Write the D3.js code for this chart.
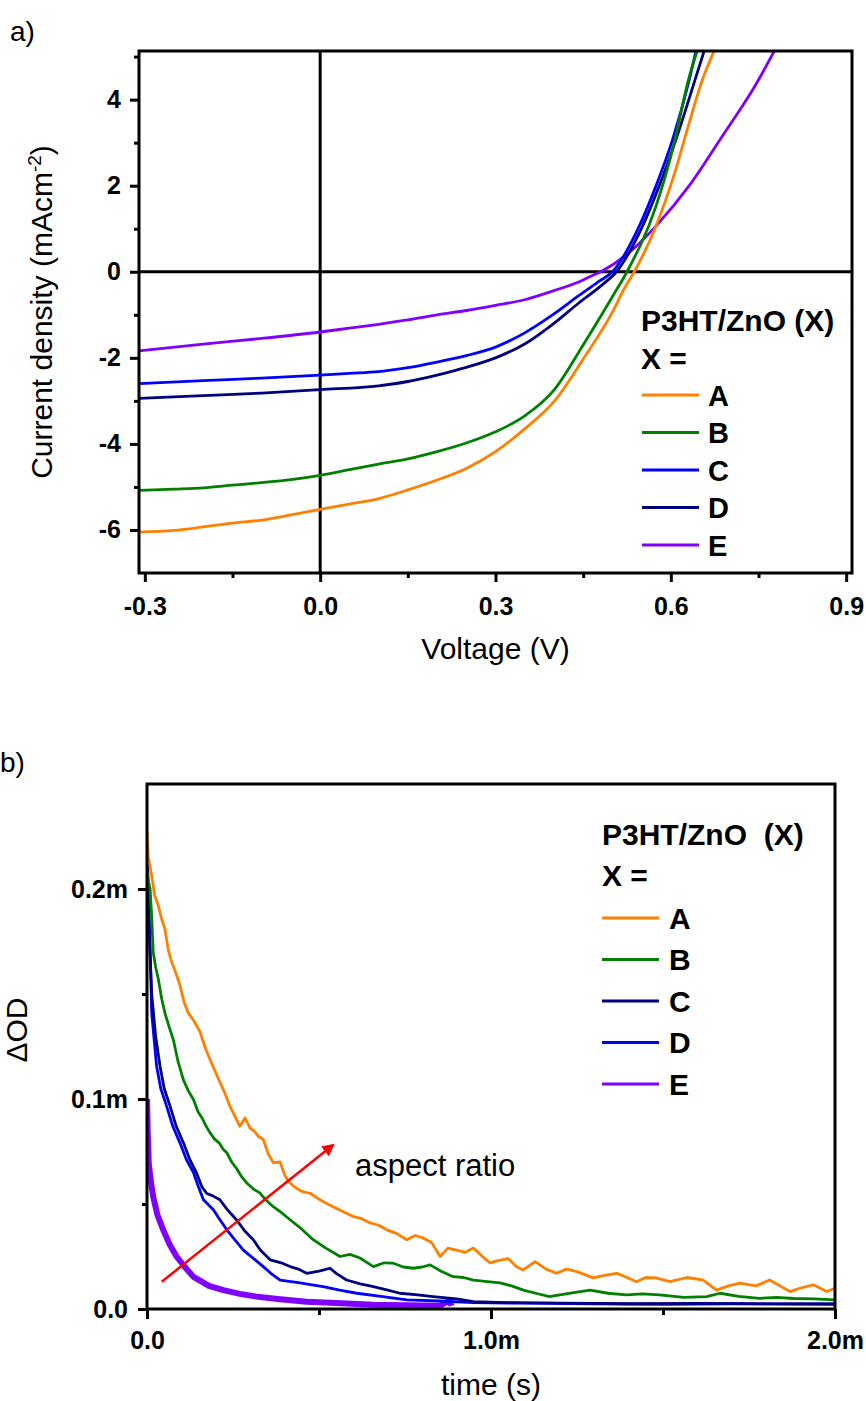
<!DOCTYPE html>
<html><head><meta charset="utf-8">
<script src="https://cdn.jsdelivr.net/npm/d3@7"></script>
<style>
body{margin:0;background:#fff}
svg{display:block}
text{font-family:"Liberation Sans",Arial,Helvetica,sans-serif;fill:#000}
</style>
</head><body>
<svg id="c" width="866" height="1401"></svg>
<script>
// ---------- Panel a) J-V data ----------
const jvSeries = ["A","B","C","D","E"];
const jvColors = ["#ff8000","#008000","#0000ff","#000080","#8000ff"];
const V_A = [-0.31,-0.25,-0.2,-0.15,-0.1,-0.05,0,0.05,0.1,0.15,0.2,0.25,0.3,0.35,0.4,0.45,0.5,0.52,0.5375,0.5745,0.603,0.6315,0.654,0.674];
const J_A = [-6.05,-6.01,-5.93,-5.84,-5.77,-5.65,-5.52,-5.40,-5.27,-5.07,-4.84,-4.57,-4.18,-3.65,-3.02,-2.03,-0.94,-0.40,0,1.06,2.14,3.46,4.46,5.13];
const V_B = [-0.31,-0.25,-0.2,-0.15,-0.1,-0.05,0,0.05,0.1,0.15,0.2,0.25,0.3,0.35,0.4,0.45,0.5,0.525,0.5745,0.603,0.6315,0.645];
const J_B = [-5.08,-5.05,-5.02,-4.96,-4.90,-4.83,-4.73,-4.60,-4.47,-4.35,-4.18,-3.98,-3.72,-3.35,-2.75,-1.70,-0.58,0,1.52,2.84,4.53,5.13];
const V_C = [-0.31,-0.2,-0.1,0,0.05,0.1,0.15,0.2,0.25,0.3,0.35,0.4,0.443,0.4776,0.5,0.546,0.5745,0.603,0.6315,0.643];
const J_C = [-2.60,-2.53,-2.47,-2.40,-2.36,-2.32,-2.23,-2.10,-1.95,-1.75,-1.42,-0.98,-0.55,-0.22,0,1.06,1.99,3.07,4.46,5.13];
const V_D = [-0.31,-0.2,-0.1,0,0.1,0.15,0.2,0.25,0.3,0.35,0.4,0.443,0.483,0.507,0.5516,0.58,0.6087,0.643,0.657];
const J_D = [-2.94,-2.88,-2.82,-2.74,-2.65,-2.55,-2.40,-2.22,-2.00,-1.68,-1.20,-0.72,-0.30,0,1.06,1.99,3.07,4.53,5.13];
const V_E = [-0.31,-0.2,-0.1,0,0.05,0.1,0.15,0.2,0.25,0.3,0.35,0.4,0.45,0.4605,0.48,0.529,0.5745,0.6315,0.688,0.7455,0.777];
const J_E = [-1.84,-1.68,-1.55,-1.40,-1.31,-1.22,-1.12,-1.00,-0.90,-0.78,-0.65,-0.44,-0.19,-0.12,0,0.45,1.06,2.00,3.15,4.35,5.13];
const jvV = [V_A,V_B,V_C,V_D,V_E];
const jvJ = [J_A,J_B,J_C,J_D,J_E];
const jvXTicks = [-0.3,0,0.3,0.6,0.9];
const jvXMinor = [-0.15,0.15,0.45,0.75];
const jvYTicks = [-6,-4,-2,0,2,4];
const jvYMinor = [-5,-3,-1,1,3,5];

// ---------- Panel b) transient absorption data (time in ms, dOD in 1e-3) ----------
const taSeries = ["A","B","C","D","E"];
const taColors = ["#ff8000","#008000","#000080","#0000ff","#8000ff"];
const T_A = [0,0.004,0.014,0.022,0.033,0.042,0.052,0.062,0.072,0.084,0.096,0.108,0.12,0.137,0.154,0.168,0.18,0.196,0.212,0.226,0.24,0.255,0.27,0.285,0.3,0.31,0.325,0.338,0.352,0.367,0.387,0.4,0.411,0.43,0.45,0.475,0.503,0.525,0.55,0.575,0.6,0.625,0.648,0.672,0.697,0.725,0.755,0.78,0.8,0.828,0.852,0.875,0.9,0.925,0.949,0.975,0.997,1.02,1.05,1.075,1.094,1.128,1.16,1.19,1.22,1.25,1.297,1.33,1.366,1.395,1.423,1.45,1.48,1.52,1.57,1.617,1.656,1.69,1.724,1.77,1.81,1.84,1.869,1.9,1.937,1.976,2.0];
const D_A = [0.227,0.215,0.206,0.197,0.192,0.186,0.181,0.171,0.165,0.160,0.154,0.146,0.141,0.137,0.132,0.125,0.120,0.114,0.108,0.103,0.097,0.092,0.087,0.091,0.086,0.085,0.082,0.0807,0.074,0.0697,0.070,0.064,0.0607,0.058,0.056,0.055,0.052,0.050,0.048,0.046,0.044,0.043,0.041,0.040,0.0377,0.036,0.033,0.035,0.034,0.0315,0.025,0.029,0.028,0.027,0.029,0.025,0.022,0.023,0.024,0.020,0.0186,0.0226,0.019,0.017,0.019,0.0178,0.0148,0.016,0.017,0.015,0.013,0.015,0.0148,0.013,0.015,0.0138,0.009,0.011,0.0123,0.011,0.0138,0.011,0.0083,0.010,0.0115,0.0083,0.0099];
const T_B = [0,0.005,0.009,0.014,0.018,0.025,0.033,0.043,0.052,0.065,0.077,0.09,0.106,0.12,0.135,0.148,0.16,0.172,0.183,0.196,0.21,0.222,0.232,0.246,0.26,0.275,0.29,0.31,0.328,0.345,0.367,0.39,0.416,0.45,0.483,0.52,0.561,0.59,0.619,0.658,0.69,0.716,0.745,0.774,0.8,0.823,0.855,0.89,0.92,0.949,0.99,1.026,1.06,1.094,1.13,1.17,1.2,1.25,1.288,1.34,1.394,1.44,1.49,1.56,1.627,1.666,1.72,1.78,1.83,1.88,1.94,2.0];
const D_B = [0.208,0.203,0.2,0.1857,0.17,0.163,0.157,0.1475,0.141,0.134,0.128,0.118,0.109,0.104,0.0998,0.094,0.091,0.087,0.084,0.081,0.079,0.076,0.0744,0.070,0.067,0.063,0.060,0.057,0.0553,0.052,0.0487,0.046,0.0425,0.038,0.033,0.029,0.025,0.026,0.0243,0.0202,0.022,0.0218,0.020,0.0194,0.020,0.021,0.018,0.0154,0.015,0.0138,0.013,0.0124,0.011,0.009,0.0075,0.0059,0.0067,0.008,0.009,0.0075,0.0067,0.0072,0.0067,0.0055,0.0059,0.0075,0.006,0.0051,0.0055,0.005,0.0048,0.0043];
const T_C = [0,0.005,0.0136,0.025,0.038,0.05,0.067,0.085,0.106,0.125,0.144,0.16,0.174,0.19,0.212,0.235,0.26,0.285,0.309,0.33,0.358,0.39,0.416,0.44,0.464,0.5,0.532,0.55,0.58,0.62,0.658,0.7,0.735,0.78,0.832,0.9,0.949,1.045,1.2,1.4,1.6,1.8,2.0];
const D_C = [0.21,0.185,0.15,0.13,0.1155,0.105,0.0966,0.087,0.079,0.071,0.0648,0.058,0.055,0.054,0.052,0.047,0.0425,0.037,0.033,0.028,0.0234,0.022,0.0202,0.019,0.017,0.018,0.0194,0.017,0.0138,0.012,0.0107,0.009,0.0075,0.0068,0.0059,0.0048,0.0035,0.003,0.0028,0.0025,0.0027,0.0024,0.0025];
const T_D = [0,0.004,0.009,0.0136,0.028,0.04,0.057,0.075,0.096,0.115,0.135,0.15,0.164,0.193,0.21,0.232,0.255,0.28,0.31,0.338,0.36,0.387,0.445,0.48,0.512,0.56,0.61,0.68,0.755,0.85,0.949,1.1,1.3,1.5,1.7,1.9,2.0];
const D_D = [0.218,0.2,0.173,0.141,0.1155,0.105,0.0966,0.087,0.079,0.071,0.065,0.058,0.052,0.0473,0.043,0.0377,0.033,0.028,0.024,0.0202,0.017,0.0138,0.0124,0.0115,0.0107,0.009,0.0075,0.006,0.0043,0.0038,0.003,0.0028,0.0025,0.0022,0.0025,0.0023,0.0022];
const T_E = [0,0.002,0.005,0.01,0.018,0.03,0.047,0.065,0.086,0.11,0.135,0.154,0.18,0.222,0.27,0.319,0.38,0.464,0.55,0.657,0.75,0.85,0.88,0.885];
const D_E = [0.1,0.085,0.0697,0.062,0.0535,0.045,0.0377,0.031,0.025,0.02,0.0153,0.0135,0.011,0.009,0.0072,0.0059,0.0048,0.0035,0.0028,0.002,0.0018,0.0015,0.004,0.0015];
const taT = [T_A,T_B,T_C,T_D,T_E];
const taD = [D_A,D_B,D_C,D_D,D_E];
const taXTicks = [0,1,2];
const taXMinor = [0.5,1.5];
const taYTicks = [0,0.1,0.2];
const taYMinor = [0.05,0.15];
const arrowT = [0.043,0.54];
const arrowD = [0.013,0.078];

const svg = d3.select("#c");
const AX = 3;

function styleAxis(g, fs){
  g.select(".domain").remove();
  g.selectAll(".tick line").attr("stroke","#000").attr("stroke-width",AX);
  g.selectAll(".tick text").attr("font-size",fs).attr("font-weight","bold")
   .style("font-family",'"Liberation Sans",Arial,sans-serif').attr("fill","#000");
}

// ================= Panel a =================
const xJ = d3.scaleLinear().domain([-0.31,0.91]).range([139,852]);
const yJ = d3.scaleLinear().domain([-7,5.13]).range([573,51]);
const fmt1 = d => d.toFixed(1);

const defs = svg.append("defs");
defs.append("clipPath").attr("id","clipA")
  .append("rect").attr("x",xJ.range()[0]).attr("y",yJ.range()[1])
  .attr("width",xJ.range()[1]-xJ.range()[0]).attr("height",yJ.range()[0]-yJ.range()[1]);

const gA = svg.append("g");
gA.append("line").attr("x1",xJ.range()[0]).attr("x2",xJ.range()[1]).attr("y1",yJ(0)).attr("y2",yJ(0))
  .attr("stroke","#000").attr("stroke-width",3);
gA.append("line").attr("x1",xJ(0)).attr("x2",xJ(0)).attr("y1",yJ.range()[0]).attr("y2",yJ.range()[1])
  .attr("stroke","#000").attr("stroke-width",3);

const lineJ = d3.line().x(d=>xJ(d[0])).y(d=>yJ(d[1])).curve(d3.curveMonotoneX);
[4,3,2,1,0].forEach(i=>{
  const pts = jvV[i].map((v,k)=>[v,jvJ[i][k]]);
  gA.append("path").attr("d",lineJ(pts)).attr("fill","none").attr("stroke",jvColors[i])
    .attr("stroke-width",2.8).attr("clip-path","url(#clipA)").attr("stroke-linejoin","round");
});

const axLA = gA.append("g").attr("transform",`translate(${xJ.range()[0]},0)`)
  .call(d3.axisLeft(yJ).tickValues(jvYTicks).tickSize(9).tickPadding(9).tickFormat(d=>String(d)));
styleAxis(axLA,25);
const axLAm = gA.append("g").attr("transform",`translate(${xJ.range()[0]},0)`)
  .call(d3.axisLeft(yJ).tickValues(jvYMinor).tickSize(5).tickFormat(""));
styleAxis(axLAm,25);
const axBA = gA.append("g").attr("transform",`translate(0,${yJ.range()[0]})`)
  .call(d3.axisBottom(xJ).tickValues(jvXTicks).tickSize(9).tickPadding(15).tickFormat(fmt1));
styleAxis(axBA,25);
const axBAm = gA.append("g").attr("transform",`translate(0,${yJ.range()[0]})`)
  .call(d3.axisBottom(xJ).tickValues(jvXMinor).tickSize(5).tickFormat(""));
styleAxis(axBAm,25);
gA.append("rect").attr("x",xJ.range()[0]).attr("y",yJ.range()[1])
  .attr("width",xJ.range()[1]-xJ.range()[0]).attr("height",yJ.range()[0]-yJ.range()[1])
  .attr("fill","none").attr("stroke","#000").attr("stroke-width",AX);

gA.append("text").attr("x",10).attr("y",41).attr("font-size",28).text("a)");
gA.append("text").attr("x",(xJ.range()[0]+xJ.range()[1])/2).attr("y",659).attr("text-anchor","middle")
  .attr("font-size",30).text("Voltage (V)");
const yl = gA.append("text").attr("transform",`translate(52,${(yJ.range()[0]+yJ.range()[1])/2}) rotate(-90)`)
  .attr("text-anchor","middle").attr("font-size",30);
yl.append("tspan").text("Current density (mAcm");
yl.append("tspan").attr("font-size",19).attr("dy",-11).text("-2");
yl.append("tspan").attr("dy",11).text(")");

const legA = gA.append("g");
legA.append("text").attr("x",641).attr("y",331).attr("font-size",30).attr("font-weight","bold").text("P3HT/ZnO (X)");
legA.append("text").attr("x",641).attr("y",369).attr("font-size",30).attr("font-weight","bold").text("X =");
jvSeries.forEach((s,i)=>{
  const y = 395 + i*37.5;
  legA.append("line").attr("x1",642).attr("x2",699).attr("y1",y).attr("y2",y)
    .attr("stroke",jvColors[i]).attr("stroke-width",3);
  legA.append("text").attr("x",708).attr("y",y+10.5).attr("font-size",29).attr("font-weight","bold").text(s);
});

// ================= Panel b =================
const xT = d3.scaleLinear().domain([0,2]).range([147,835]);
const yD = d3.scaleLinear().domain([0,0.25]).range([1309,784]);
const fmtM = d => d===0 ? "0.0" : d.toFixed(1)+"m";

defs.append("clipPath").attr("id","clipB")
  .append("rect").attr("x",xT.range()[0]).attr("y",yD.range()[1])
  .attr("width",xT.range()[1]-xT.range()[0]).attr("height",yD.range()[0]-yD.range()[1]);
defs.append("marker").attr("id","arr").attr("viewBox","0 0 10 10")
  .attr("refX",8).attr("refY",5).attr("markerWidth",5).attr("markerHeight",5)
  .attr("orient","auto").attr("markerUnits","strokeWidth")
  .append("path").attr("d","M0,0 L10,5 L0,10 z").attr("fill","#ff0000");

const gB = svg.append("g");
const lineT = d3.line().x(d=>xT(d[0])).y(d=>yD(d[1])).curve(d3.curveLinear);
[4,3,2,1,0].forEach(i=>{
  const pts = taT[i].map((t,k)=>[t,taD[i][k]]);
  gB.append("path").attr("d",lineT(pts)).attr("fill","none").attr("stroke",taColors[i])
    .attr("stroke-width", i===4 ? 6 : 2.8).attr("clip-path","url(#clipB)").attr("stroke-linejoin","round");
});

const axLB = gB.append("g").attr("transform",`translate(${xT.range()[0]},0)`)
  .call(d3.axisLeft(yD).tickValues(taYTicks).tickSize(9).tickPadding(10).tickFormat(fmtM));
styleAxis(axLB,25);
const axLBm = gB.append("g").attr("transform",`translate(${xT.range()[0]},0)`)
  .call(d3.axisLeft(yD).tickValues(taYMinor).tickSize(5).tickFormat(""));
styleAxis(axLBm,25);
const axBB = gB.append("g").attr("transform",`translate(0,${yD.range()[0]})`)
  .call(d3.axisBottom(xT).tickValues(taXTicks).tickSize(10).tickPadding(12).tickFormat(fmtM));
styleAxis(axBB,25);
const axBBm = gB.append("g").attr("transform",`translate(0,${yD.range()[0]})`)
  .call(d3.axisBottom(xT).tickValues(taXMinor).tickSize(6).tickFormat(""));
styleAxis(axBBm,25);
gB.append("rect").attr("x",xT.range()[0]).attr("y",yD.range()[1])
  .attr("width",xT.range()[1]-xT.range()[0]).attr("height",yD.range()[0]-yD.range()[1])
  .attr("fill","none").attr("stroke","#000").attr("stroke-width",AX);

gB.append("line").attr("x1",xT(arrowT[0])).attr("y1",yD(arrowD[0]))
  .attr("x2",xT(arrowT[1])).attr("y2",yD(arrowD[1]))
  .attr("stroke","#ff0000").attr("stroke-width",2.5).attr("marker-end","url(#arr)");
gB.append("text").attr("x",355).attr("y",1176).attr("font-size",31).text("aspect ratio");

gB.append("text").attr("x",0).attr("y",772).attr("font-size",28).text("b)");
gB.append("text").attr("x",(xT.range()[0]+xT.range()[1])/2).attr("y",1395).attr("text-anchor","middle")
  .attr("font-size",30).text("time (s)");
gB.append("text").attr("transform",`translate(27,1030) rotate(-90)`).attr("text-anchor","middle")
  .attr("font-size",30).text("\u0394OD");

const legB = gB.append("g");
legB.append("text").attr("x",602).attr("y",845).attr("font-size",30).attr("font-weight","bold")
  .attr("xml:space","preserve").style("white-space","pre").text("P3HT/ZnO  (X)");
legB.append("text").attr("x",602).attr("y",886).attr("font-size",30).attr("font-weight","bold").text("X =");
taSeries.forEach((s,i)=>{
  const y = 918 + i*41.5;
  legB.append("line").attr("x1",602).attr("x2",659).attr("y1",y).attr("y2",y)
    .attr("stroke",taColors[i]).attr("stroke-width",3);
  legB.append("text").attr("x",669).attr("y",y+10.5).attr("font-size",30).attr("font-weight","bold").text(s);
});
</script>
</body></html>
